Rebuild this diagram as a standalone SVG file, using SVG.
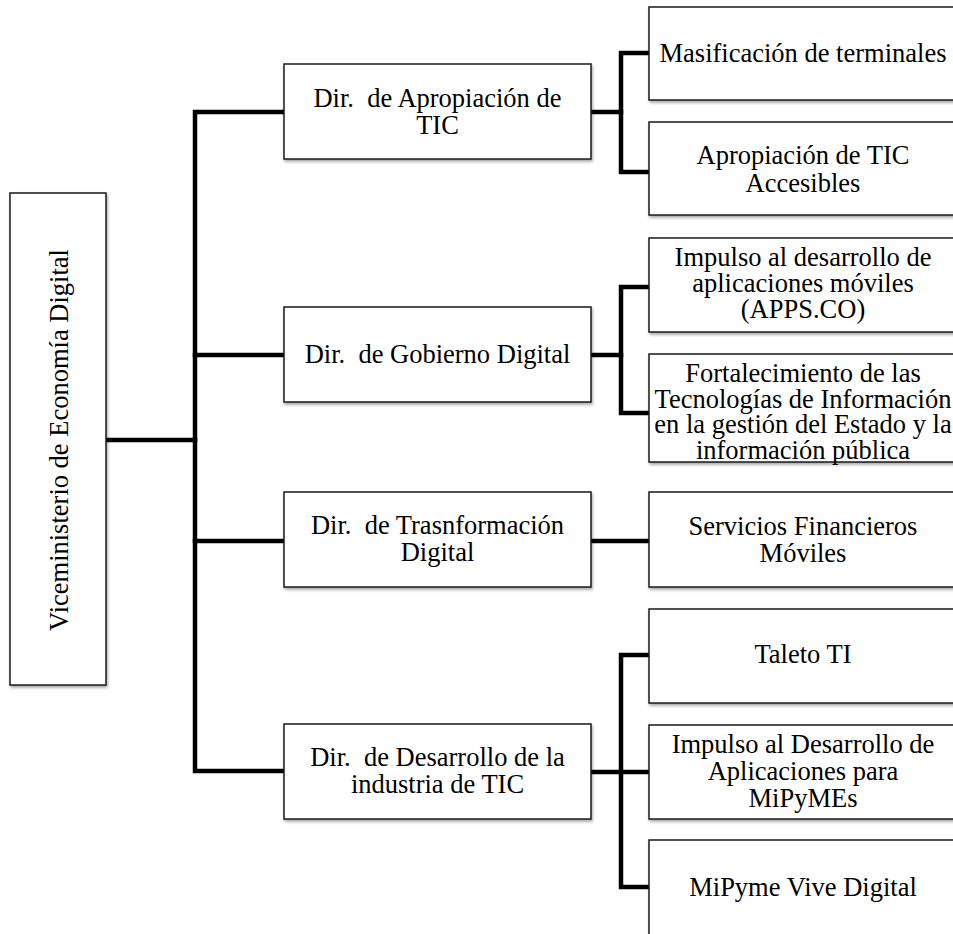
<svg xmlns="http://www.w3.org/2000/svg" width="953" height="934" viewBox="0 0 953 934">
  <style>
    .box { fill: #ffffff; stroke: #1a1a1a; stroke-width: 1.5; filter: url(#shadow); }
    .lbl { font-family: "Liberation Serif", "Times New Roman", serif; font-size: 26.5px; fill: #000000; text-anchor: middle; }
    .wire { fill: none; stroke: #000000; stroke-width: 4.5; stroke-linejoin: miter; stroke-linecap: square; }
  </style>
  <defs>
    <filter id="shadow" x="-10%" y="-10%" width="130%" height="130%">
      <feDropShadow dx="1" dy="2" stdDeviation="1.5" flood-color="#000000" flood-opacity="0.35"/>
    </filter>
  </defs>
  <rect width="953" height="934" fill="#ffffff"/>

  <!-- connectors -->
  <g id="connectors" class="wire">
    <!-- root to trunk -->
    <path d="M106 440 H195"/>
    <!-- trunk with branches to the four directorates -->
    <path d="M284 112 H195 V771 H284"/>
    <path d="M195 355 H284"/>
    <path d="M195 541 H284"/>
    <!-- Apropiación branch -->
    <path d="M591 112 H621"/>
    <path d="M649 53 H621 V172 H649"/>
    <!-- Gobierno branch -->
    <path d="M591 355 H621"/>
    <path d="M649 287 H621 V413 H649"/>
    <!-- Transformación branch -->
    <path d="M591 541 H649"/>
    <!-- Desarrollo branch -->
    <path d="M591 772 H649"/>
    <path d="M649 655 H621 V887 H649"/>
  </g>

  <!-- root -->
  <g id="root">
    <rect class="box" x="10" y="193" width="96" height="492"/>
    <text class="lbl" transform="translate(68,440) rotate(-90)">Viceministerio de Economía Digital</text>
  </g>

  <!-- directorates -->
  <g id="dir-apropiacion">
    <rect class="box" x="284" y="64" width="307" height="95"/>
    <text class="lbl" x="437.5" y="107">Dir.&#160; de Apropiación de</text>
    <text class="lbl" x="437.5" y="134">TIC</text>
  </g>
  <g id="dir-gobierno">
    <rect class="box" x="284" y="307" width="307" height="95"/>
    <text class="lbl" x="437.5" y="363">Dir.&#160; de Gobierno Digital</text>
  </g>
  <g id="dir-transformacion">
    <rect class="box" x="284" y="492" width="307" height="95"/>
    <text class="lbl" x="437.5" y="534">Dir.&#160; de Trasnformación</text>
    <text class="lbl" x="437.5" y="561">Digital</text>
  </g>
  <g id="dir-desarrollo">
    <rect class="box" x="284" y="724" width="307" height="95"/>
    <text class="lbl" x="437.5" y="766">Dir.&#160; de Desarrollo de la</text>
    <text class="lbl" x="437.5" y="793">industria de TIC</text>
  </g>

  <!-- programmes -->
  <g id="masificacion">
    <rect class="box" x="649" y="7" width="308" height="93"/>
    <text class="lbl" x="803" y="62">Masificación de terminales</text>
  </g>
  <g id="tic-accesibles">
    <rect class="box" x="649" y="122" width="308" height="93"/>
    <text class="lbl" x="803" y="164">Apropiación de TIC</text>
    <text class="lbl" x="803" y="192">Accesibles</text>
  </g>
  <g id="apps-co">
    <rect class="box" x="649" y="238" width="308" height="94"/>
    <text class="lbl" x="803" y="266">Impulso al desarrollo de</text>
    <text class="lbl" x="803" y="292">aplicaciones móviles</text>
    <text class="lbl" x="803" y="318">(APPS.CO)</text>
  </g>
  <g id="fortalecimiento-ti">
    <rect class="box" x="649" y="354" width="308" height="108"/>
    <text class="lbl" x="803" y="382">Fortalecimiento de las</text>
    <text class="lbl" x="803" y="408">Tecnologías de Información</text>
    <text class="lbl" x="803" y="433">en la gestión del Estado y la</text>
    <text class="lbl" x="803" y="459">información pública</text>
  </g>
  <g id="servicios-financieros">
    <rect class="box" x="649" y="492" width="308" height="95"/>
    <text class="lbl" x="803" y="535">Servicios Financieros</text>
    <text class="lbl" x="803" y="562">Móviles</text>
  </g>
  <g id="talento-ti">
    <rect class="box" x="649" y="609" width="308" height="94"/>
    <text class="lbl" x="803" y="663">Taleto TI</text>
  </g>
  <g id="apps-mipymes">
    <rect class="box" x="649" y="725" width="308" height="94"/>
    <text class="lbl" x="803" y="753">Impulso al Desarrollo de</text>
    <text class="lbl" x="803" y="780">Aplicaciones para</text>
    <text class="lbl" x="803" y="807">MiPyMEs</text>
  </g>
  <g id="mipyme-vive-digital">
    <rect class="box" x="649" y="840" width="308" height="100"/>
    <text class="lbl" x="803" y="896">MiPyme Vive Digital</text>
  </g>
</svg>
